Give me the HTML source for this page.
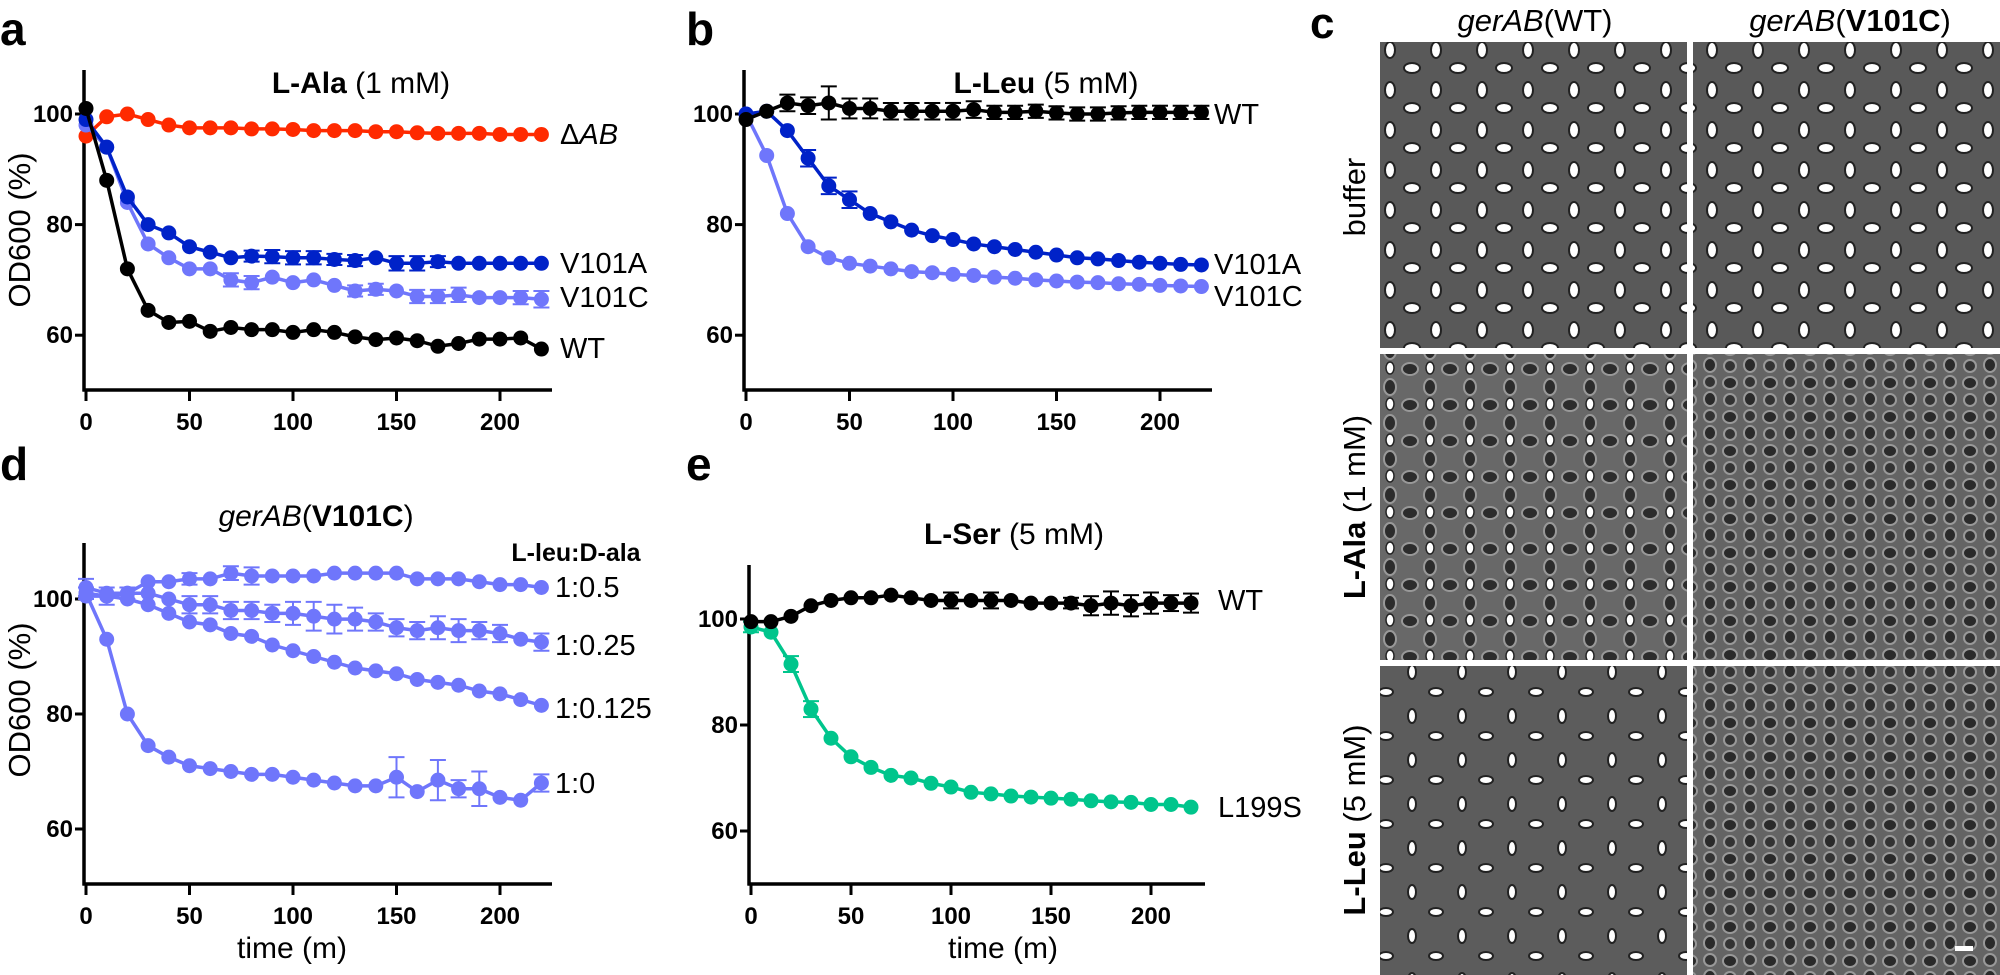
<!DOCTYPE html>
<html><head><meta charset="utf-8"><style>
html,body{margin:0;padding:0;background:#fff}
svg{display:block;font-family:"Liberation Sans",sans-serif}
</style></head><body>
<svg id="s" width="2000" height="975" viewBox="0 0 2000 975" xmlns="http://www.w3.org/2000/svg">
<defs>
<pattern id="p1" width="46" height="40" patternUnits="userSpaceOnUse">
<rect width="46" height="40" fill="#595959"/>
<ellipse cx="10" cy="10" rx="5" ry="8" fill="#fff" stroke="#222" stroke-width="2"/>
<ellipse cx="32" cy="28" rx="8" ry="5" fill="#fff" stroke="#222" stroke-width="2"/>
</pattern>
<pattern id="p2" width="40" height="36" patternUnits="userSpaceOnUse">
<rect width="40" height="36" fill="#686868"/>
<ellipse cx="10" cy="9" rx="8" ry="6" fill="#2c2c2c" stroke="#999" stroke-width="2"/>
<ellipse cx="30" cy="27" rx="6" ry="8" fill="#2c2c2c" stroke="#999" stroke-width="2"/>
<ellipse cx="30" cy="8" rx="4" ry="6" fill="#fff" stroke="#222" stroke-width="1.5"/>
</pattern>
<pattern id="p3" width="40" height="34" patternUnits="userSpaceOnUse">
<rect width="40" height="34" fill="#646464"/>
<ellipse cx="10" cy="9" rx="7" ry="6" fill="#2a2a2a" stroke="#999" stroke-width="2"/>
<ellipse cx="30" cy="25" rx="6" ry="7" fill="#2a2a2a" stroke="#999" stroke-width="2"/>
<ellipse cx="30" cy="8" rx="6" ry="6" fill="#333" stroke="#999" stroke-width="2"/>
<ellipse cx="10" cy="26" rx="6" ry="6" fill="#333" stroke="#999" stroke-width="2"/>
</pattern>
<pattern id="p4" width="50" height="44" patternUnits="userSpaceOnUse">
<rect width="50" height="44" fill="#5c5c5c"/>
<ellipse cx="12" cy="12" rx="4" ry="7" fill="#fff" stroke="#222" stroke-width="2"/>
<ellipse cx="36" cy="32" rx="7" ry="4" fill="#fff" stroke="#222" stroke-width="2"/>
</pattern>
</defs>
<g id="g"></g>
<rect x="1380" y="42" width="307" height="306" fill="url(#p1)"/>
<rect x="1693" y="42" width="307" height="306" fill="url(#p1)"/>
<rect x="1380" y="354" width="307" height="306" fill="url(#p2)"/>
<rect x="1693" y="354" width="307" height="306" fill="url(#p3)"/>
<rect x="1380" y="666" width="307" height="309" fill="url(#p4)"/>
<rect x="1693" y="666" width="307" height="309" fill="url(#p3)"/>
<rect x="1955" y="946" width="18" height="5" fill="#fff"/>
<text x="1310" y="38" font-size="44" font-weight="bold">c</text>
<text x="1535" y="31" font-size="31" text-anchor="middle"><tspan font-style="italic">gerAB</tspan>(WT)</text>
<text x="1850" y="31" font-size="31" text-anchor="middle"><tspan font-style="italic">gerAB</tspan>(<tspan font-weight="bold">V101C</tspan>)</text>
<text transform="translate(1365,197) rotate(-90)" font-size="31" text-anchor="middle">buffer</text>
<text transform="translate(1365,507) rotate(-90)" font-size="31" text-anchor="middle"><tspan font-weight="bold">L-Ala</tspan> (1 mM)</text>
<text transform="translate(1365,820) rotate(-90)" font-size="31" text-anchor="middle"><tspan font-weight="bold">L-Leu</tspan> (5 mM)</text>
<text x="0" y="45" font-size="46" font-weight="bold">a</text>
<text x="686" y="45" font-size="46" font-weight="bold">b</text>
<text x="0" y="480" font-size="46" font-weight="bold">d</text>
<text x="686" y="480" font-size="46" font-weight="bold">e</text>
<text x="361" y="93" font-size="30" text-anchor="middle"><tspan font-weight="bold">L-Ala</tspan> (1 mM)</text>
<text x="1046" y="93" font-size="30" text-anchor="middle"><tspan font-weight="bold">L-Leu</tspan> (5 mM)</text>
<text x="316" y="526" font-size="30" text-anchor="middle"><tspan font-style="italic">gerAB</tspan>(<tspan font-weight="bold">V101C</tspan>)</text>
<text x="1014" y="544" font-size="30" text-anchor="middle"><tspan font-weight="bold">L-Ser</tspan> (5 mM)</text>
<text x="576" y="561" font-size="25" font-weight="bold" text-anchor="middle">L-leu:D-ala</text>
<text transform="translate(30,230) rotate(-90)" font-size="31" text-anchor="middle">OD600 (%)</text>
<text transform="translate(30,700) rotate(-90)" font-size="31" text-anchor="middle">OD600 (%)</text>
<text x="292" y="958" font-size="30" text-anchor="middle">time (m)</text>
<text x="1003" y="958" font-size="30" text-anchor="middle">time (m)</text>
<g font-size="29">
<text x="560" y="144"><tspan>Δ</tspan><tspan font-style="italic">AB</tspan></text>
<text x="560" y="273">V101A</text>
<text x="560" y="307">V101C</text>
<text x="560" y="358">WT</text>
<text x="1214" y="124">WT</text>
<text x="1214" y="274">V101A</text>
<text x="1214" y="306">V101C</text>
<text x="555" y="597">1:0.5</text>
<text x="555" y="655">1:0.25</text>
<text x="555" y="718">1:0.125</text>
<text x="555" y="793">1:0</text>
<text x="1218" y="610">WT</text>
<text x="1218" y="817">L199S</text>
</g>
</svg>
<script>
var NS="http://www.w3.org/2000/svg",G=document.getElementById("g");
function el(t,a){var e=document.createElementNS(NS,t);for(var k in a)e.setAttribute(k,a[k]);G.appendChild(e);return e;}
function txt(x,y,s,a){var e=el("text",Object.assign({x:x,y:y,"font-size":24,"font-weight":"bold"},a||{}));e.textContent=s;}
function panel(o,series){
 el("line",{x1:o.ax,y1:o.top,x2:o.ax,y2:o.bot+1.5,stroke:"#000","stroke-width":3.5});
 el("line",{x1:o.ax-1.5,y1:o.bot,x2:o.right,y2:o.bot,stroke:"#000","stroke-width":3.5});
 [60,80,100].forEach(function(v){var y=o.y100+(100-v)*o.sy;
  el("line",{x1:o.ax-9,y1:y,x2:o.ax,y2:y,stroke:"#000","stroke-width":3});
  txt(o.ax-11,y+8,String(v),{"text-anchor":"end"});});
 [0,50,100,150,200].forEach(function(t){var x=o.x0+t*o.sx;
  el("line",{x1:x,y1:o.bot,x2:x,y2:o.bot+11,stroke:"#000","stroke-width":3});
  txt(x,o.bot+40,String(t),{"text-anchor":"middle"});});
 series.forEach(function(s){
  var pts=s.d.map(function(v,i){return [o.x0+i*10*o.sx,o.y100+(100-v)*o.sy];});
  el("polyline",{points:pts.map(function(p){return p.join(",")}).join(" "),fill:"none",stroke:s.c,"stroke-width":3.5});
  pts.forEach(function(p,i){var e=(s.e&&s.e[i])||0;
   if(e){var h=e*o.sy;
    el("line",{x1:p[0],y1:p[1]-h,x2:p[0],y2:p[1]+h,stroke:s.c,"stroke-width":2});
    el("line",{x1:p[0]-8,y1:p[1]-h,x2:p[0]+8,y2:p[1]-h,stroke:s.c,"stroke-width":2});
    el("line",{x1:p[0]-8,y1:p[1]+h,x2:p[0]+8,y2:p[1]+h,stroke:s.c,"stroke-width":2});}
   el("circle",{cx:p[0],cy:p[1],r:7.5,fill:s.c});});
 });
}
var R="#ff2a00",DB="#0022c8",LB="#6f76fb",K="#000",GR="#00c58c";
panel({x0:86,sx:2.07,y100:114,sy:5.53,ax:84,top:70,bot:390,right:552},[
 {c:R,d:[96,99.5,100,99,98,97.5,97.5,97.5,97.3,97.3,97.2,97,97,97,96.8,96.8,96.6,96.5,96.5,96.5,96.3,96.3,96.3]},
 {c:LB,d:[98,94,84,76.5,74,72,72,70,69.5,70.5,69.5,70,69,68,68.3,68,67,67,67.3,66.8,66.8,66.8,66.5],e:[0,0,0,0,0,0,0,1.2,1.2,0,0,0,0,1,1,0,1.2,1.2,1.3,0,0,1.2,1.5]},
 {c:DB,d:[99,94,85,80,78.5,76,75,74,74.3,74.2,74,74,73.7,73.5,74,73,73,73.3,73,73,73,73,73],e:[0,0,0,0,0,0,0,0,1,1.2,1.2,1.2,1,1,0,1.3,1.3,1,0,0,0,0,0]},
 {c:K,d:[101,88,72,64.5,62.3,62.5,60.7,61.4,61,61,60.5,61,60.5,59.7,59.2,59.5,59,58,58.5,59.3,59.3,59.5,57.5]}
]);
panel({x0:746,sx:2.07,y100:114,sy:5.53,ax:744,top:70,bot:390,right:1212},[
 {c:LB,d:[100,92.5,82,76,74,73,72.5,72,71.5,71.3,71,70.8,70.5,70.3,70,69.8,69.6,69.5,69.3,69.2,69,68.9,68.8]},
 {c:DB,d:[100,100.5,97,92,87,84.5,82,80.5,79,78,77.3,76.5,76,75.5,75,74.5,74,73.8,73.5,73.2,73,72.8,72.7],e:[0,0,0,1.5,1.5,1.5]},
 {c:K,d:[99,100.5,102,101.5,102,101,101,100.5,100.5,100.5,100.5,100.8,100.3,100.3,100.5,100.2,100,100,100.2,100.3,100.3,100.3,100.3],e:[0,0,1.5,1.5,3,1.8,1.8,1.5,1.5,1.5,1.5,1.5,1.2,1.2,1.2,1.2,1.2,1.2,1.2,1.2,1.2,1.2,1.2]}
]);
panel({x0:86,sx:2.07,y100:599,sy:5.75,ax:84,top:543,bot:884,right:552},[
 {c:LB,d:[102,101,101,103,103,103.5,103.5,104.5,104,104,104,104,104.5,104.5,104.5,104.5,103.5,103.5,103.5,103,102.5,102.5,102],e:[1.5,0,0,0,0,1,0,1.2,1.5]},
 {c:LB,d:[101,100.5,101,101,100,99,99,98,98,97.5,97.5,97,96.5,96.5,96,95,94.5,95,94.5,94.5,94,93,92.5],e:[1,1.5,1,0,0,1.5,1.5,1.5,1.5,1.5,2,2.5,2.5,2,1.5,1.5,1.5,2,2,1.5,1.5,0,1.5]},
 {c:LB,d:[100.5,100.5,100,99,97.5,96,95.5,94,93.5,92,91,90,89,88,87.5,87,86,85.5,85,84,83.5,82.5,81.5]},
 {c:LB,d:[101,93,80,74.5,72.5,71,70.5,70,69.5,69.5,69,68.5,68,67.5,67.5,69,66.5,68.5,67,67,65.5,65,68],e:[0,0,0,0,0,0,0,0,0,0,0,0,0,0,0,3.5,0,3.5,1.5,3,0,0,1.5]}
]);
panel({x0:751,sx:2.0,y100:619,sy:5.3,ax:749,top:565,bot:884,right:1205},[
 {c:GR,d:[98.5,97.5,91.5,83,77.5,74,72,70.5,70,69,68.3,67.3,67,66.6,66.4,66.2,66,65.7,65.5,65.4,65,65,64.5],e:[1,0,1.5,1.5]},
 {c:K,d:[99.5,99.5,100.5,102.5,103.5,104,104,104.5,104,103.5,103.5,103.5,103.5,103.5,103,103,103,102.5,103,102.5,103,103,103],e:[0,0,0,0,0,0,0,0,0,0,1.5,0,1.5,0,0,0,1,1.8,2.2,2,2,1.5,1.8]}
]);
</script>
</body></html>
